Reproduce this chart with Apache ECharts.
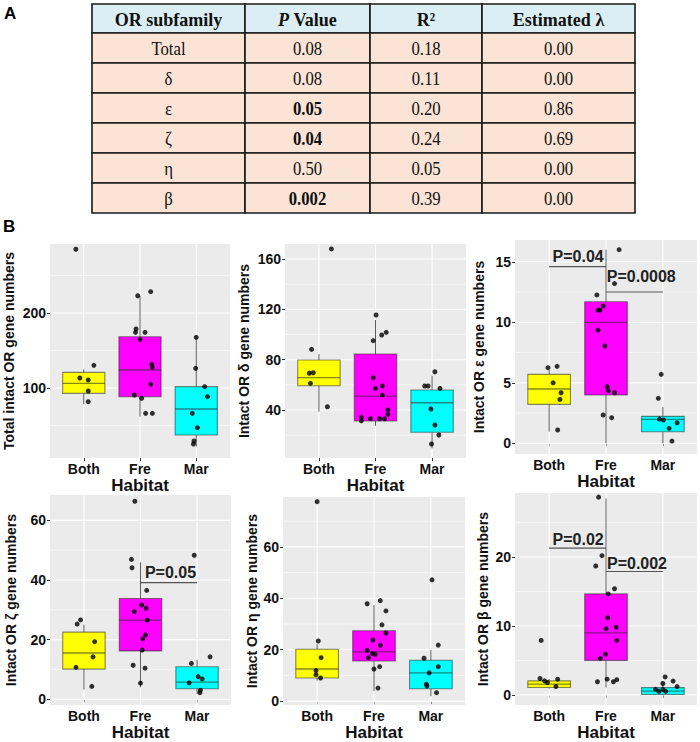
<!DOCTYPE html>
<html><head><meta charset="utf-8">
<script src="https://cdn.jsdelivr.net/npm/echarts@6/dist/echarts.min.js"></script>
<style>html,body{margin:0;padding:0;background:#fff}#c{width:700px;height:742px}</style>
</head><body><div id="c"></div><script>
// ---------------- DATA ----------------
const tableHeader = ['OR subfamily', 'P Value', 'R²', 'Estimated λ'];
const tableSubfamily = ['Total', 'δ', 'ε', 'ζ', 'η', 'β'];
const tablePValue = ['0.08', '0.08', '0.05', '0.04', '0.50', '0.002'];
const tableR2 = ['0.18', '0.11', '0.20', '0.24', '0.05', '0.39'];
const tableLambda = ['0.00', '0.00', '0.86', '0.69', '0.00', '0.00'];

const categories = ['Both', 'Fre', 'Mar'];
const xAxisName = 'Habitat';
const yNames = ['Total intact OR gene numbers', 'Intact OR δ gene numbers', 'Intact OR ε gene numbers',
                'Intact OR ζ gene numbers', 'Intact OR η gene numbers', 'Intact OR β gene numbers'];

// box stats per category: [lower whisker, Q1, median, Q3, upper whisker]
const totalBox = [[78.2, 92.9, 106.2, 120.8, 124.9], [61.8, 88.4, 124, 168.4, 222.7], [21.8, 37.3, 72, 101.8, 168.4]];
const deltaBox = [[38.7, 59.3, 65.7, 79.7, 84.5], [27.5, 31.3, 51.1, 84.5, 111.5], [9.6, 22.3, 45.8, 55.9, 67.3]];
const epsilonBox = [[0.96, 3.22, 4.49, 5.7, 6.06], [0, 3.99, 10.0, 11.7, 16.0], [0, 0.96, 1.98, 2.23, 3.0]];
const zetaBox = [[3.2, 10.1, 15.5, 22.5, 25], [4, 16.2, 26.5, 33.8, 45.9], [1.8, 3.5, 5.7, 10.9, 13.1]];
const etaBox = [[8.0, 9.0, 12.5, 20.2, 22.1], [3.9, 15.6, 19.2, 27.4, 37.4], [1.9, 4.8, 11.0, 15.9, 19.9]];
const betaBox = [[0.9, 1.07, 1.55, 2.03, 2.3], [1.07, 5.0, 9.0, 14.65, 28.5], [0, 0.05, 0.55, 1.05, 1.9]];

// individual species values (Both, Fre, Mar)
const totalPoints = [[285, 130.2, 113.3, 110.7, 96, 81.8],
  [228.4, 223, 178.7, 174.2, 174.2, 164.9, 131.6, 127.6, 104.9, 90.7, 86.2, 66.2, 66.2],
  [167.6, 126.2, 101.8, 88.4, 66.2, 47.1, 29.3, 25.3]];
const totalJitter = [[-0.14, 0.18, -0.07, 0.08, 0.08, 0.08],
  [0.19, -0.04, -0.07, -0.08, 0.09, 0, 0.21, 0.22, 0.19, -0.1, 0.03, 0.1, 0.22],
  [0, -0.01, 0.15, 0.2, -0.07, 0.02, -0.04, -0.05]];
const deltaPoints = [[168, 88.2, 69.6, 69.2, 61.2, 42.6],
  [115.5, 101.7, 99.6, 95.1, 65.7, 59.1, 57.2, 51.9, 40, 36.6, 34.2, 33.1, 33.1, 33.1, 31.5],
  [70.4, 59.1, 59.1, 57.2, 40.8, 28.1, 20.2, 13]];
const deltaJitter = [[0.22, -0.13, -0.1, -0.17, -0.15, 0.15],
  [0.01, 0.19, 0.11, -0.04, -0.04, 0.12, 0, 0.12, 0.22, 0.22, -0.25, -0.09, 0.07, 0.16, -0.25],
  [0.05, -0.13, -0.07, 0.14, -0.02, 0.05, 0.12, -0.01]];
const epsilonPoints = [[6.36, 6.25, 5.0, 4.18, 3.63, 1.1],
  [16.0, 13.2, 12.26, 11.35, 11.0, 11.0, 9.36, 8.04, 4.68, 4.35, 4.18, 2.34, 2.12],
  [5.7, 3.72, 2.0, 1.93, 1.7, 1.24, 0.19]];
const epsilonJitter = [[0.14, -0.02, 0.07, 0.21, 0.19, 0.15],
  [0.23, 0.15, -0.16, -0.05, -0.14, -0.11, -0.14, -0.02, 0.02, 0.04, 0.15, -0.05, 0.1],
  [-0.03, -0.08, -0.06, 0.01, 0.25, 0.11, 0.16]];
const zetaPoints = [[26.6, 25.2, 19.3, 14.2, 10.7, 4.3],
  [66.4, 46.9, 44.1, 36.5, 31.6, 30.5, 29.4, 26.5, 21.6, 20.3, 16.5, 11.4, 10.4, 5.4],
  [48.3, 14.2, 12, 7.6, 6.8, 5.5, 3.0, 2.2]];
const zetaJitter = [[-0.06, -0.12, 0.19, 0.16, -0.14, 0.14],
  [-0.1, -0.16, -0.15, 0.11, 0.02, 0.1, -0.11, 0.12, 0.09, 0.04, 0.03, -0.13, 0.08, 0],
  [-0.05, 0.23, -0.1, 0.02, 0.09, -0.14, 0.06, 0.05]];
const etaPoints = [[77.6, 23.4, 16.9, 11.9, 10.3, 9.0],
  [39.1, 37.9, 35.1, 29.7, 26.5, 23.8, 21.7, 19.8, 18.5, 18.2, 16.9, 13.4, 12.5, 5.1],
  [47.2, 21.8, 16.7, 13.4, 11.0, 6.6, 5.9, 3.3]];
const etaJitter = [[0, 0.02, 0.07, -0.02, -0.02, 0.06],
  [0.11, -0.12, 0.21, 0.14, 0.21, -0.02, 0.11, -0.12, -0.03, 0.02, -0.1, 0.1, 0, 0.07],
  [0.02, 0.13, -0.12, 0.13, -0.03, -0.08, -0.07, 0.1]];
const betaPoints = [[7.9, 2.37, 2.27, 2.03, 1.79, 1.21],
  [28.7, 20.2, 18.7, 15.4, 14.65, 11.2, 9.8, 9.6, 7.9, 5.9, 5.3, 2.27, 2.2, 1.9, 1.9],
  [2.6, 2.0, 1.65, 1.2, 0.8, 0.8, 0.5, 0.5]];
const betaJitter = [[-0.14, -0.16, 0.15, -0.08, -0.03, 0.12],
  [-0.13, -0.07, -0.18, 0.15, 0.04, 0.03, 0.18, 0, 0.19, -0.01, -0.1, 0.02, 0.19, -0.15, 0.13],
  [0.04, 0.18, 0, 0.25, -0.13, 0, -0.07, 0.05]];

// tick labels (major) and minor grid values
const totalTicks = [100, 200], totalMinor = [50, 150, 250];
const deltaTicks = [40, 80, 120, 160], deltaMinor = [20, 60, 100, 140];
const epsilonTicks = [0, 5, 10, 15], epsilonMinor = [2.5, 7.5, 12.5];
const zetaTicks = [0, 20, 40, 60], zetaMinor = [10, 30, 50];
const etaTicks = [0, 20, 40, 60], etaMinor = [10, 30, 50, 70];
const betaTicks = [0, 10, 20], betaMinor = [5, 15, 25];

// significance brackets: [fromCat, toCat, lineValue, labelCat, labelValue, label]
const epsilonSig = [[1, 2, 14.6, 1.51, 15.4, 'P=0.04'], [2, 3, 12.5, 2.62, 13.75, 'P=0.0008']];
const zetaSig = [[2, 3, 39.1, 2.53, 42.4, 'P=0.05']];
const betaSig = [[1, 2, 21.3, 1.51, 22.5, 'P=0.02'], [2, 3, 17.9, 2.545, 19.1, 'P=0.002']];

// ---------------- LAYOUT / STYLE ----------------
const SANS = '"Liberation Sans", Arial, sans-serif';
const SERIF = '"Liberation Serif", "Times New Roman", serif';
const boxFills = ['#FFFF00', '#FF00FF', '#00FFFF'];
const panels = [
  {box: totalBox, pts: totalPoints, jit: totalJitter, ticks: totalTicks, minor: totalMinor, sig: [],
   grid: {left: 50, top: 244, width: 180, height: 214}, range: [6.67, 292], nameGap: 34},
  {box: deltaBox, pts: deltaPoints, jit: deltaJitter, ticks: deltaTicks, minor: deltaMinor, sig: [],
   grid: {left: 285, top: 244, width: 181, height: 214}, range: [1.9, 171.9], nameGap: 34},
  {box: epsilonBox, pts: epsilonPoints, jit: epsilonJitter, ticks: epsilonTicks, minor: epsilonMinor, sig: epsilonSig,
   grid: {left: 515, top: 240, width: 182, height: 214}, range: [-0.88, 16.8], nameGap: 29},
  {box: zetaBox, pts: zetaPoints, jit: zetaJitter, ticks: zetaTicks, minor: zetaMinor, sig: zetaSig,
   grid: {left: 50, top: 495, width: 181, height: 213}, range: [-1.98, 68.5], nameGap: 32},
  {box: etaBox, pts: etaPoints, jit: etaJitter, ticks: etaTicks, minor: etaMinor, sig: [],
   grid: {left: 283, top: 497, width: 182, height: 211}, range: [-1.53, 79.4], nameGap: 24},
  {box: betaBox, pts: betaPoints, jit: betaJitter, ticks: betaTicks, minor: betaMinor, sig: betaSig,
   grid: {left: 515, top: 493, width: 182, height: 213}, range: [-1.49, 29.3], nameGap: 25}
];

const grids = [], xAxes = [], yAxes = [], series = [];
panels.forEach((p, i) => {
  grids.push(Object.assign({show: true, backgroundColor: '#EBEBEB', borderWidth: 0}, p.grid));
  xAxes.push({
    type: 'value', gridIndex: i, min: 0.4, max: 3.6,
    axisLine: {show: false}, splitLine: {show: false},
    axisTick: {show: true, customValues: [1, 2, 3], length: 3, lineStyle: {color: '#333'}},
    axisLabel: {customValues: [1, 2, 3], formatter: v => categories[Math.round(v) - 1] || '',
      fontFamily: SANS, fontWeight: 'bold', fontSize: 14, color: '#111', margin: 4},
    name: xAxisName, nameLocation: 'middle', nameGap: 17,
    nameTextStyle: {fontFamily: SANS, fontWeight: 'bold', fontSize: 17, color: '#111'}
  });
  yAxes.push({
    type: 'value', gridIndex: i, min: p.range[0], max: p.range[1],
    axisLine: {show: false}, splitLine: {show: false},
    axisTick: {show: true, customValues: p.ticks, length: 3, lineStyle: {color: '#333'}},
    axisLabel: {customValues: p.ticks, fontFamily: SANS, fontWeight: 'bold', fontSize: 14, color: '#111', margin: 4},
    name: yNames[i], nameLocation: 'middle', nameGap: p.nameGap, nameRotate: 90,
    nameTextStyle: {fontFamily: SANS, fontWeight: 'bold', fontSize: 14, color: '#111'}
  });
  // grid lines
  const gridData = [];
  p.minor.forEach(v => gridData.push([v, 0]));
  p.ticks.forEach(v => gridData.push([v, 1]));
  [1, 2, 3].forEach(v => gridData.push([v, 2]));
  series.push({
    type: 'custom', xAxisIndex: i, yAxisIndex: i, z: 1, silent: true, data: gridData,
    encode: {x: 0, y: 1},
    renderItem: (params, api) => {
      const v = api.value(0), kind = api.value(1), cs = params.coordSys;
      if (kind < 2) {
        const y = api.coord([2, v])[1];
        return {type: 'line', shape: {x1: cs.x, y1: y, x2: cs.x + cs.width, y2: y},
          style: {stroke: '#FFFFFF', lineWidth: kind === 1 ? 1.1 : 0.55}};
      }
      const x = api.coord([v, p.range[0]])[0];
      return {type: 'line', shape: {x1: x, y1: cs.y, x2: x, y2: cs.y + cs.height},
        style: {stroke: '#FFFFFF', lineWidth: 1.1}};
    }
  });
  // boxes
  series.push({
    type: 'custom', xAxisIndex: i, yAxisIndex: i, z: 2, silent: true,
    data: p.box.map((b, k) => [k + 1].concat(b, [k])),
    encode: {x: 0, y: [1, 2, 3, 4, 5]},
    renderItem: (params, api) => {
      const x = api.value(0);
      const lo = api.coord([x, api.value(1)]), q1 = api.coord([x, api.value(2)]);
      const md = api.coord([x, api.value(3)]), q3 = api.coord([x, api.value(4)]);
      const hi = api.coord([x, api.value(5)]);
      const w = api.size([0.75, 0])[0];
      const edge = 'rgba(40,40,40,0.55)';
      return {type: 'group', children: [
        {type: 'line', shape: {x1: lo[0], y1: lo[1], x2: q1[0], y2: q1[1]}, style: {stroke: '#5e5e5e', lineWidth: 1}},
        {type: 'line', shape: {x1: q3[0], y1: q3[1], x2: hi[0], y2: hi[1]}, style: {stroke: '#5e5e5e', lineWidth: 1}},
        {type: 'rect', shape: {x: md[0] - w / 2, y: q3[1], width: w, height: q1[1] - q3[1]},
          style: {fill: boxFills[api.value(6)], stroke: edge, lineWidth: 1.1}},
        {type: 'line', shape: {x1: md[0] - w / 2, y1: md[1], x2: md[0] + w / 2, y2: md[1]}, style: {stroke: edge, lineWidth: 1.3}}
      ]};
    }
  });
  // points
  const ptData = [];
  p.pts.forEach((arr, k) => arr.forEach((v, j) => ptData.push([k + 1 + p.jit[k][j], v])));
  series.push({
    type: 'scatter', xAxisIndex: i, yAxisIndex: i, z: 3, silent: true, data: ptData,
    symbol: 'circle', symbolSize: 5, itemStyle: {color: '#000'}
  });
  // significance brackets
  if (p.sig.length) {
    series.push({
      type: 'custom', xAxisIndex: i, yAxisIndex: i, z: 4, silent: true,
      data: p.sig.map((s, k) => [s[0], s[2], s[1], s[3], s[4], k]),
      encode: {x: [0, 2, 3], y: [1, 4]},
      renderItem: (params, api) => {
        const y = api.value(1);
        const a = api.coord([api.value(0), y]), b = api.coord([api.value(2), y]);
        const t = api.coord([api.value(3), api.value(4)]);
        return {type: 'group', children: [
          {type: 'line', shape: {x1: a[0], y1: a[1], x2: b[0], y2: b[1]}, style: {stroke: '#555', lineWidth: 1.1}},
          {type: 'text', x: t[0], y: t[1], style: {text: p.sig[api.value(5)][5], align: 'center', verticalAlign: 'middle',
            fontFamily: SANS, fontWeight: 'bold', fontSize: 16, fill: '#222'}}
        ]};
      }
    });
  }
});

// ---------------- TABLE (graphic) ----------------
const colX = [92, 245, 370, 482, 635];
const headerTop = 4, headerH = 29, rowH = 30;
const graphics = [];
function cell(x0, x1, y0, h, fill) {
  graphics.push({type: 'rect', shape: {x: x0, y: y0, width: x1 - x0, height: h},
    style: {fill: fill, stroke: '#1a1a1a', lineWidth: 1.6}, silent: true});
}
function ctext(x0, x1, y0, h, str, weight, sx, rich) {
  const st = {text: str, x: 0, y: 0, align: 'center', verticalAlign: 'middle',
    fontFamily: SERIF, fontSize: 19, fontWeight: weight, fill: '#111'};
  if (rich) st.rich = rich;
  graphics.push({type: 'text', x: (x0 + x1) / 2, y: y0 + h / 2 + 0.5, scaleX: sx, style: st, silent: true, z: 10});
}
tableHeader.forEach((h, c) => {
  cell(colX[c], colX[c + 1], headerTop, headerH, '#DAEEF3');
  if (c === 1) {
    ctext(colX[c], colX[c + 1], headerTop, headerH, '{pi|P} Value', 'bold', 0.95,
      {pi: {fontStyle: 'italic', fontWeight: 'bold', fontFamily: SERIF, fontSize: 19, fill: '#111'}});
  } else {
    ctext(colX[c], colX[c + 1], headerTop, headerH, h, 'bold', 0.95);
  }
});
const tableCols = [tableSubfamily, tablePValue, tableR2, tableLambda];
tableSubfamily.forEach((_, r) => {
  const y0 = headerTop + headerH + r * rowH;
  tableCols.forEach((col, c) => {
    cell(colX[c], colX[c + 1], y0, rowH, '#FBE4D5');
    const bold = c === 1 && parseFloat(col[r]) <= 0.05;
    ctext(colX[c], colX[c + 1], y0, rowH, col[r], bold ? 'bold' : 'normal', 0.88);
  });
});
graphics.push({type: 'text', style: {text: 'A', x: 4, y: 13, verticalAlign: 'middle', fontFamily: SANS, fontWeight: 'bold', fontSize: 17, fill: '#000'}});
graphics.push({type: 'text', style: {text: 'B', x: 3, y: 226, verticalAlign: 'middle', fontFamily: SANS, fontWeight: 'bold', fontSize: 17, fill: '#000'}});

const chart = echarts.init(document.getElementById('c'), null, {renderer: 'svg', width: 700, height: 742});
chart.setOption({
  animation: false,
  backgroundColor: '#FFFFFF',
  grid: grids, xAxis: xAxes, yAxis: yAxes, series: series,
  graphic: graphics
});
</script></body></html>
